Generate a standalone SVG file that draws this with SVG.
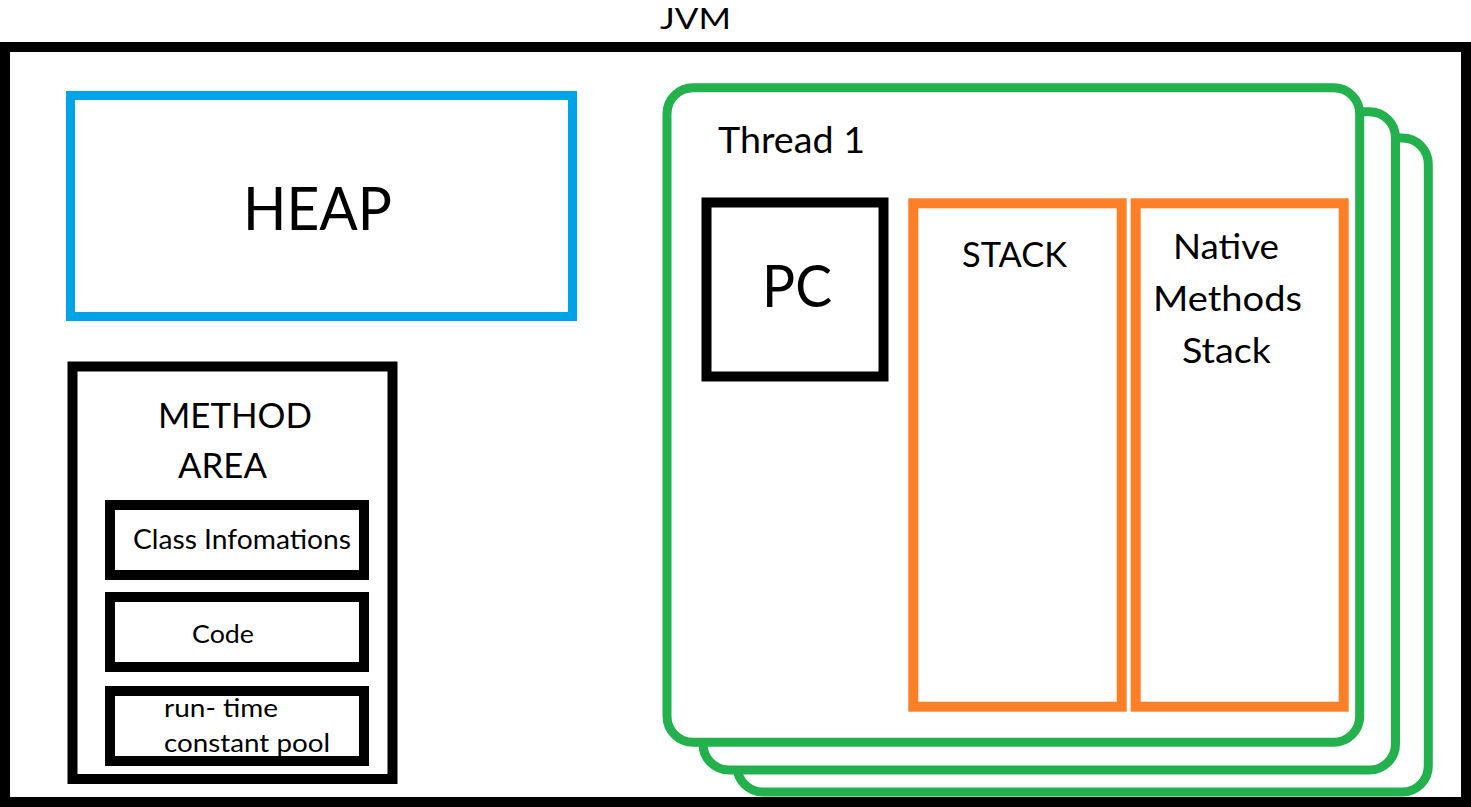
<svg xmlns="http://www.w3.org/2000/svg" width="1471" height="807" viewBox="0 0 1471 807">
<style>
  .t { font-family: Lato, "Liberation Sans", sans-serif; fill: #000; }
  .blk { fill: none; stroke: #000; stroke-width: 10; }
  .heap { fill: none; stroke: #00A2E8; stroke-width: 9; }
  .thr { fill: #fff; stroke: #22B14C; stroke-width: 9; }
  .stk { fill: none; stroke: #FF7F27; stroke-width: 10; }
</style>
<rect width="1471" height="807" fill="#fff"/>

<g id="jvm">
  <rect class="blk" x="5" y="47" width="1461" height="755"/>
  <text class="t" x="660" y="29" font-size="29" textLength="71" lengthAdjust="spacingAndGlyphs">JVM</text>
</g>

<g id="heap">
  <rect class="heap" x="70.5" y="95.5" width="502" height="221"/>
  <text class="t" x="243" y="230" font-size="60" textLength="149" lengthAdjust="spacingAndGlyphs">HEAP</text>
</g>

<g id="method-area">
  <rect class="blk" x="72.5" y="366.5" width="320" height="412.5"/>
  <text class="t" x="158" y="428" font-size="35" textLength="154" lengthAdjust="spacingAndGlyphs">METHOD</text>
  <text class="t" x="178" y="478" font-size="35" textLength="89" lengthAdjust="spacingAndGlyphs">AREA</text>
</g>

<g id="class-info">
  <text class="t" x="133" y="549" font-size="26" textLength="218" lengthAdjust="spacingAndGlyphs">Class Infomations</text>
  <rect class="blk" x="110" y="505" width="254" height="70"/>
</g>

<g id="code">
  <text class="t" x="192" y="643" font-size="25" textLength="62" lengthAdjust="spacingAndGlyphs">Code</text>
  <rect class="blk" x="110" y="597" width="254" height="70"/>
</g>

<g id="constant-pool">
  <text class="t" x="164" y="717" font-size="25" textLength="114" lengthAdjust="spacingAndGlyphs">run- time</text>
  <text class="t" x="164" y="752" font-size="25" textLength="166" lengthAdjust="spacingAndGlyphs">constant pool</text>
  <rect class="blk" x="110" y="691" width="254" height="70"/>
</g>

<g id="thread-3">
  <rect class="thr" x="737" y="138" width="691.3" height="654" rx="26" ry="26"/>
</g>
<g id="thread-2">
  <rect class="thr" x="703" y="111.7" width="692.5" height="658.3" rx="26" ry="26"/>
</g>
<g id="thread-1">
  <rect class="thr" x="667" y="87.7" width="692.7" height="654.6" rx="26" ry="26"/>
  <text class="t" x="718" y="153" font-size="36" textLength="147" lengthAdjust="spacingAndGlyphs">Thread 1</text>
</g>

<g id="pc">
  <rect class="blk" x="706.5" y="202.5" width="177" height="174"/>
  <text class="t" x="762" y="307" font-size="59" textLength="70" lengthAdjust="spacingAndGlyphs">PC</text>
</g>

<g id="stack">
  <rect class="stk" x="913.3" y="203.3" width="208.4" height="503.4"/>
  <text class="t" x="962" y="267" font-size="34" textLength="105" lengthAdjust="spacingAndGlyphs">STACK</text>
</g>

<g id="native-stack">
  <rect class="stk" x="1135.7" y="203.3" width="208" height="503.4"/>
  <text class="t" x="1173" y="259" font-size="34" textLength="106" lengthAdjust="spacingAndGlyphs">Native</text>
  <text class="t" x="1153" y="311" font-size="34" textLength="149" lengthAdjust="spacingAndGlyphs">Methods</text>
  <text class="t" x="1182" y="363" font-size="34" textLength="89" lengthAdjust="spacingAndGlyphs">Stack</text>
</g>

<g id="connectors"></g>
</svg>
